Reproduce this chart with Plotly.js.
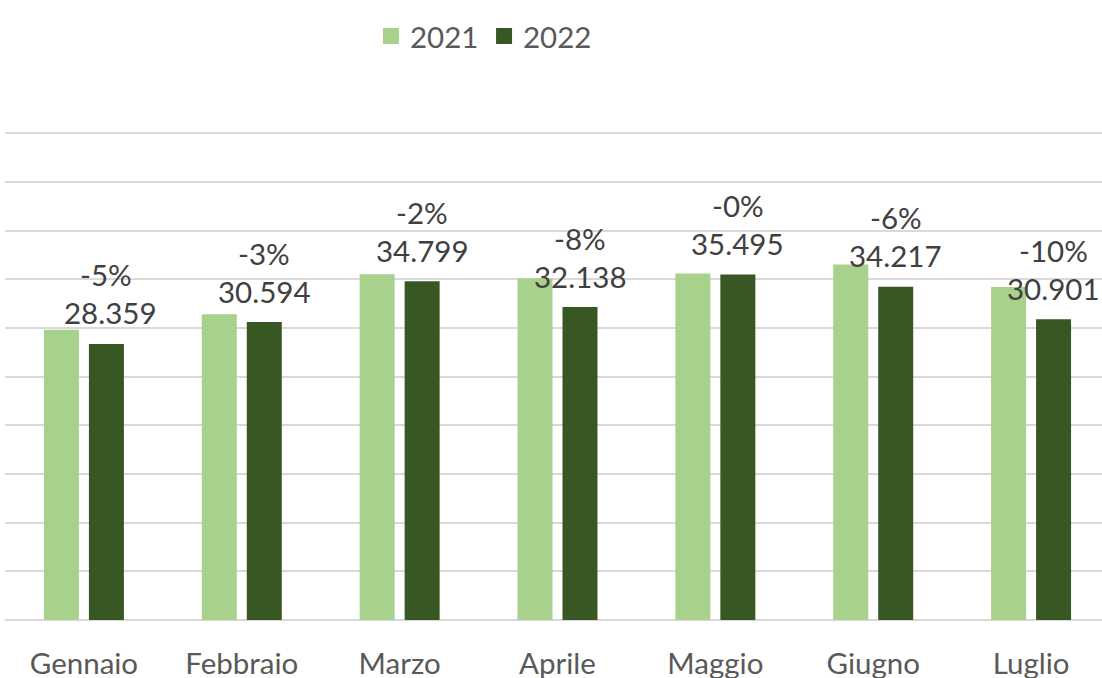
<!DOCTYPE html>
<html>
<head>
<meta charset="utf-8">
<script src="https://cdn.plot.ly/plotly-3.0.1.min.js"></script>
<style>
html,body{margin:0;padding:0;overflow:hidden;background:#fff;}
#chart{width:1112px;height:678px;}
</style>
</head>
<body>
<div id="chart"></div>
<script>
const months = ['Gennaio','Febbraio','Marzo','Aprile','Maggio','Giugno','Luglio'];
const values2021 = [29.8, 31.4, 35.5, 35.1, 35.6, 36.5, 34.2];
const values2022 = [28.359, 30.594, 34.799, 32.138, 35.495, 34.217, 30.901];
const valueLabels = ['28.359','30.594','34.799','32.138','35.495','34.217','30.901'];
const pctLabels = ['-5%','-3%','-2%','-8%','-0%','-6%','-10%'];
const seriesNames = ['2021','2022'];
const seriesColors = ['#A9D18E','#385723'];

const FONT = 'Lato, "Open Sans", sans-serif';
const traces = [
  {type:'bar', name:seriesNames[0], x:months, y:values2021, marker:{color:seriesColors[0]}, hoverinfo:'none', showlegend:false},
  {type:'bar', name:seriesNames[1], x:months, y:values2022, marker:{color:seriesColors[1]}, hoverinfo:'none', showlegend:false}
];

const annotations = [];
months.forEach((m,i)=>{
  annotations.push({x:m, y:values2022[i], xref:'x', yref:'y', text:valueLabels[i], showarrow:false,
    xshift:22.5 + (i === 0 ? 4 : 0), yshift:31, yanchor:'middle', xanchor:'center', font:{family:FONT,size:29.5,color:'#404040'}});
  annotations.push({x:m, y:values2022[i], xref:'x', yref:'y', text:pctLabels[i], showarrow:false,
    xshift:22.5, yshift:69, yanchor:'middle', xanchor:'center', font:{family:FONT,size:29.5,color:'#404040'}});
});

// custom legend (larger square symbols)
const legY = 1.1967;
const legSquareX = [0.342, 0.4444];
const legTextX = [0.3647, 0.4670];
const shapes = [];
seriesNames.forEach((n,i)=>{
  shapes.push({type:'rect', xref:'paper', yref:'paper', xsizemode:'pixel', ysizemode:'pixel',
    xanchor:legSquareX[i], yanchor:legY, x0:0, x1:16, y0:-8, y1:8,
    fillcolor:seriesColors[i], line:{width:0}});
  annotations.push({xref:'paper', yref:'paper', x:legTextX[i], y:legY, xanchor:'left', yanchor:'middle',
    text:n, showarrow:false, font:{family:FONT,size:29.5,color:'#595959'}});
});

const layout = {
  width:1112, height:678,
  margin:{l:5, r:2, t:132, b:58},
  paper_bgcolor:'#fff', plot_bgcolor:'#fff',
  barmode:'group', bargap:0.43, bargroupgap:0.222,
  font:{family:FONT, color:'#595959'},
  showlegend:false,
  xaxis:{type:'category', showgrid:false, showline:false, zeroline:false, ticks:'',
    tickfont:{family:FONT,size:29.5,color:'#595959'}, ticklabelstandoff:23, fixedrange:true},
  yaxis:{range:[0,50.12], dtick:5, tick0:0, showticklabels:false, showgrid:true, gridcolor:'#D9D9D9', gridwidth:2,
    zeroline:true, zerolinecolor:'#D9D9D9', zerolinewidth:2, showline:false, fixedrange:true},
  shapes:shapes,
  annotations:annotations
};

Plotly.newPlot('chart', traces, layout, {displayModeBar:false, staticPlot:true});
</script>
</body>
</html>
